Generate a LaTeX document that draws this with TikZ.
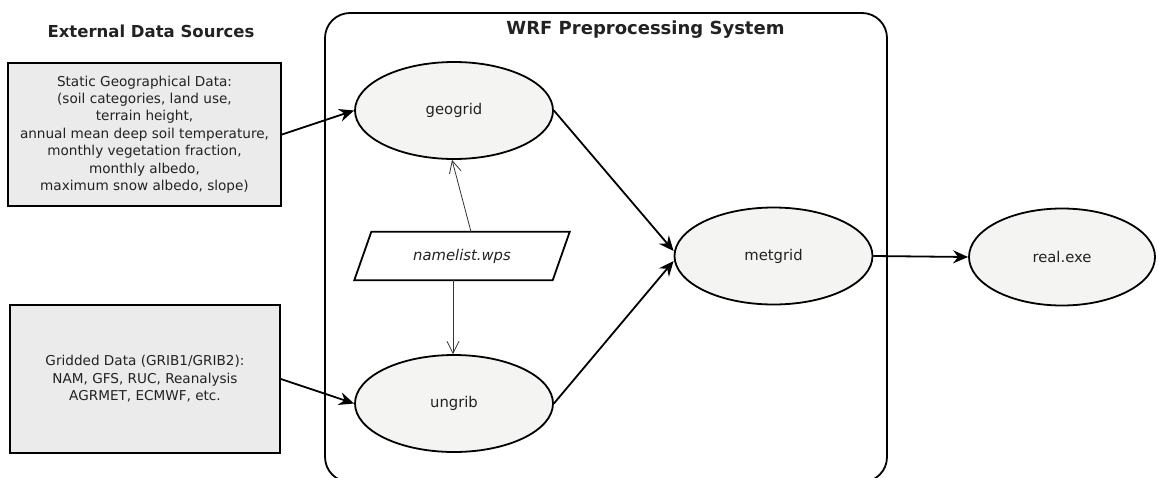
\documentclass[tikz,border=0pt]{standalone}
\usepackage{fontspec}
\setmainfont{DejaVu Sans}
\usetikzlibrary{arrows.meta,shapes.geometric,backgrounds}
\definecolor{ellfill}{HTML}{F4F4F2}
\definecolor{boxfill}{HTML}{EBEBEB}
\definecolor{txt}{HTML}{222222}
\begin{document}
\begin{tikzpicture}[x=1pt,y=-1pt,
  proc/.style={ellipse, draw, line width=1.8pt, fill=ellfill, minimum width=198pt, minimum height=97pt, inner sep=0pt, font=\fontsize{14.8}{17}\selectfont, text=txt},
  srcbox/.style={draw, line width=1.8pt, fill=boxfill, align=center, inner sep=0pt, font=\fontsize{13.6}{17.4}\selectfont, text=txt},
  heading/.style={font=\bfseries\fontsize{16.5}{20}\selectfont, text=txt},
  container/.style={draw, line width=1.8pt, rounded corners=25pt, minimum width=562pt, minimum height=469pt, inner sep=0pt},
  nlbox/.style={minimum width=198pt, minimum height=48pt, inner sep=0pt, font=\itshape\fontsize{14.8}{17}\selectfont, text=txt},
  flow/.style={-{Stealth[length=15pt,width=13pt,inset=5pt]}, line width=1.8pt},
  cfg/.style={-{Straight Barb[length=12pt,width=12pt]}, line width=0.8pt, draw=black!80}]
\useasboundingbox (0,0) rectangle (1158,477);

\node[container] (wps) at (606,247.5) {};
\node[heading] (t1) at (151,31) {External Data Sources};
\node[heading, font=\bfseries\fontsize{18}{22}\selectfont] (t2) at (645.5,30) {WRF Preprocessing System};

\node[srcbox, minimum width=273pt, minimum height=143pt] (static) at (144.5,134.5)
  {Static Geographical Data:\\(soil categories, land use,\\terrain height,\\annual mean deep soil temperature,\\monthly vegetation fraction,\\monthly albedo,\\maximum snow albedo, slope)};
\node[srcbox, minimum width=270pt, minimum height=148pt] (grid) at (145,379)
  {Gridded Data (GRIB1/GRIB2):\\NAM, GFS, RUC, Reanalysis\\AGRMET, ECMWF, etc.};

\node[proc] (geogrid) at (454,110.5) {geogrid};
\node[proc] (ungrib) at (454,403.5) {ungrib};
\node[proc] (metgrid) at (773.5,256) {metgrid};
\node[proc, minimum width=186pt] (real) at (1062,257) {real.exe};

\node[nlbox] (nl) at (462,256) {namelist.wps};
\begin{scope}[on background layer]
  \draw[line width=1.8pt, fill=white] ([xshift=-8.5pt]nl.south west) -- ([xshift=-8.5pt]nl.south east)
    -- ([xshift=8.5pt]nl.north east) -- ([xshift=8.5pt]nl.north west) -- cycle;
\end{scope}

\draw[flow] (static.east) -- (geogrid.west);
\draw[flow] (grid.east) -- (ungrib.west);
\draw[flow] (geogrid.east) -- ([yshift=5pt]metgrid.west);
\draw[flow] (ungrib.east) -- ([yshift=-5pt]metgrid.west);
\draw[flow] (metgrid.east) -- (real.west);
\draw[cfg] ([xshift=9pt]nl.north) -- ([xshift=-2pt]geogrid.south);
\draw[cfg] ([xshift=-9pt]nl.south) -- ([xshift=-1pt]ungrib.north);
\end{tikzpicture}
\end{document}
